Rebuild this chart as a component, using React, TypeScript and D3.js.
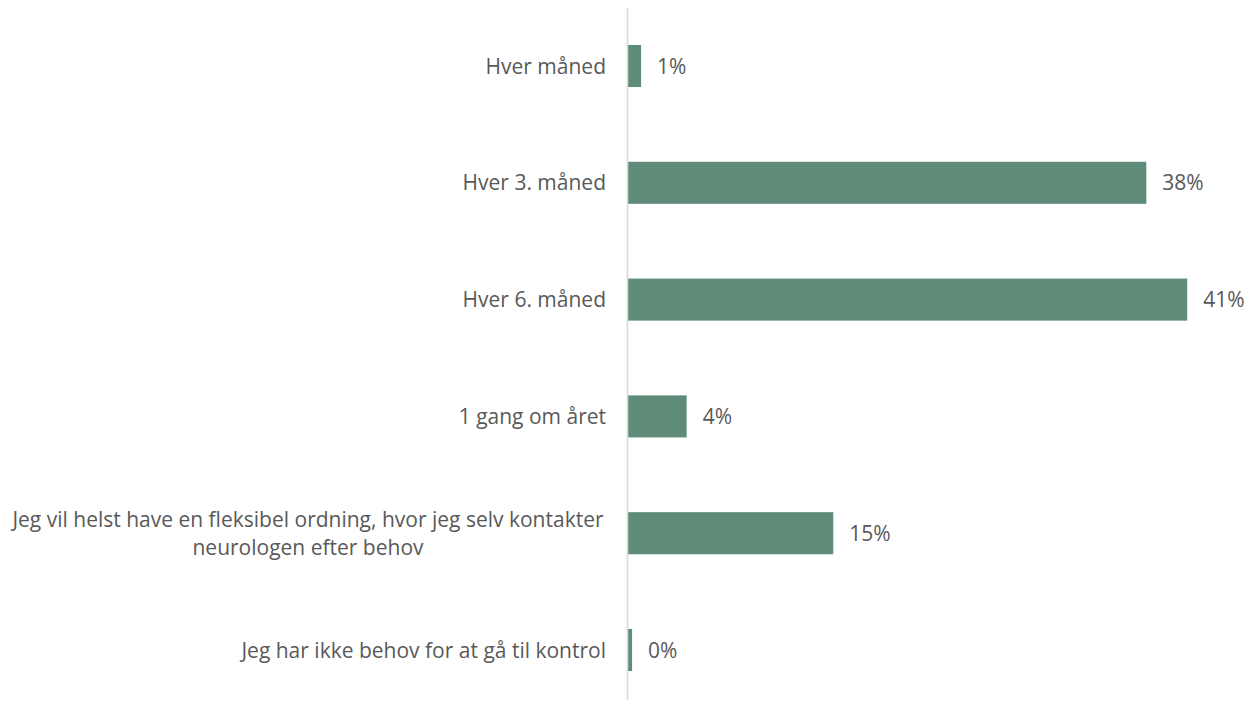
import React from "react";
import * as d3 from "d3";

const categories: string[][] = [
  ["Hver måned"],
  ["Hver 3. måned"],
  ["Hver 6. måned"],
  ["1 gang om året"],
  ["Jeg vil helst have en fleksibel ordning, hvor jeg selv kontakter", "neurologen efter behov"],
  ["Jeg har ikke behov for at gå til kontrol"],
];
const values: number[] = [0.96, 38.0, 41.0, 4.3, 15.05, 0.3];

const W = 1253;
const H = 704;
const x0 = 628;
const pxPerPct = 13.64;

export default function App() {
  const x = d3.scaleLinear().domain([0, 45]).range([x0, x0 + 45 * pxPerPct]);
  const ids = categories.map((_, i) => String(i));
  const y = d3
    .scaleBand<string>()
    .domain(ids)
    .range([7.6, 7.6 + 116.8 * 6])
    .paddingInner(0.64)
    .paddingOuter(0.32);
  const font = "'Open Sans', sans-serif";
  const fs = 21;
  const textColor = "#595959";
  return (
    <svg
      width={W}
      height={H}
      style={{ position: "absolute", left: 0, top: 0, background: "#fff" }}
    >
      {categories.map((lines, i) => {
        const yc = (y(ids[i]) as number) + y.bandwidth() / 2;
        const v = values[i];
        return (
          <g key={i}>
            <rect
              x={x(0)}
              y={y(ids[i])}
              width={x(v) - x(0)}
              height={y.bandwidth()}
              fill="#5f8c79"
            />
            <text
              x={x(v) + 16}
              y={yc}
              dy="0.36em"
              fontFamily={font}
              fontSize={fs}
              fill={textColor}
            >
              {d3.format(".0f")(v) + "%"}
            </text>
            {lines.length === 1 ? (
              <text
                x={606}
                y={yc}
                dy="0.36em"
                textAnchor="end"
                fontFamily={font}
                fontSize={fs}
                fill={textColor}
              >
                {lines[0]}
              </text>
            ) : (
              lines.map((ln, j) => (
                <text
                  key={j}
                  x={308}
                  y={yc + (j - (lines.length - 1) / 2) * 28}
                  dy="0.36em"
                  textAnchor="middle"
                  fontFamily={font}
                  fontSize={fs}
                  fill={textColor}
                >
                  {ln}
                </text>
              ))
            )}
          </g>
        );
      })}
      <line x1={x(0) - 0.5} x2={x(0) - 0.5} y1={7.6} y2={700} stroke="#d9d9d9" strokeWidth={1.6} />
    </svg>
  );
}
